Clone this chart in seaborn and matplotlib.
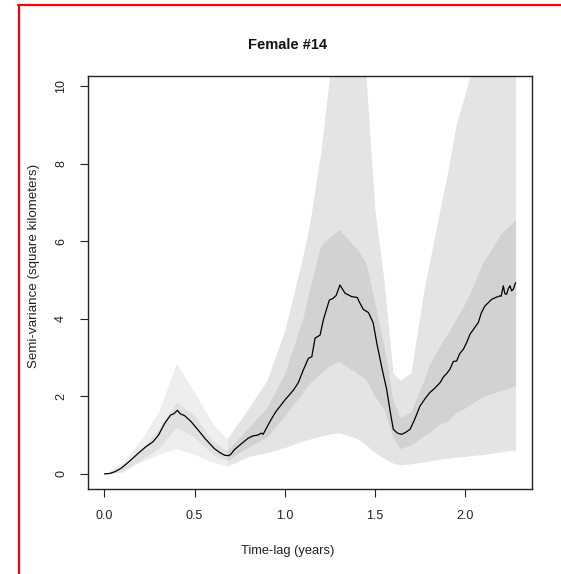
import matplotlib
matplotlib.use("Agg")
import matplotlib.pyplot as plt
import seaborn as sns
import numpy as np
import pandas as pd
from matplotlib.lines import Line2D

# ---- data ----
lag_years = [0, 0.03, 0.06, 0.094, 0.14, 0.187, 0.23, 0.27, 0.30, 0.335, 0.368, 0.385,
             0.405, 0.42, 0.445, 0.48, 0.52, 0.56, 0.61, 0.64, 0.667, 0.686, 0.70, 0.72,
             0.76, 0.797, 0.81, 0.824, 0.85, 0.87, 0.88, 0.918, 0.95, 1.0, 1.048, 1.075,
             1.103, 1.131, 1.15, 1.168, 1.196, 1.214, 1.247, 1.269, 1.285, 1.306, 1.318,
             1.334, 1.371, 1.402, 1.417, 1.436, 1.464, 1.49, 1.51, 1.54, 1.565, 1.585,
             1.602, 1.625, 1.648, 1.67, 1.695, 1.72, 1.75, 1.78, 1.805, 1.83, 1.861, 1.88,
             1.9, 1.916, 1.935, 1.953, 1.97, 1.99, 2.01, 2.027, 2.05, 2.073, 2.09, 2.11,
             2.13, 2.147, 2.17, 2.193, 2.2, 2.212, 2.22, 2.23, 2.24, 2.249, 2.258, 2.267, 2.28]
semivariance = [0, 0.01, 0.06, 0.15, 0.33, 0.53, 0.70, 0.83, 1.0, 1.31, 1.52, 1.55,
                1.64, 1.55, 1.50, 1.35, 1.13, 0.90, 0.65, 0.55, 0.48, 0.47, 0.50, 0.62,
                0.78, 0.92, 0.95, 0.98, 1.0, 1.05, 1.02, 1.35, 1.60, 1.90, 2.16, 2.35,
                2.68, 2.98, 3.02, 3.50, 3.58, 3.97, 4.48, 4.53, 4.60, 4.87, 4.78,
                4.66, 4.57, 4.55, 4.40, 4.24, 4.16, 3.90, 3.38, 2.70, 2.18, 1.60,
                1.15, 1.05, 1.02, 1.07, 1.15, 1.40, 1.75, 1.95, 2.10, 2.20, 2.35, 2.50,
                2.60, 2.70, 2.90, 2.91, 3.10, 3.21, 3.40, 3.60, 3.75, 3.90, 4.15, 4.33,
                4.42, 4.50, 4.55, 4.59, 4.58, 4.85, 4.65, 4.63, 4.78, 4.85, 4.72, 4.76, 4.93]

band_lag = [0, 0.1, 0.2, 0.3, 0.4, 0.5, 0.6, 0.68, 0.8, 0.9, 1.0, 1.1, 1.14, 1.2, 1.25,
            1.3, 1.4, 1.45, 1.5, 1.55, 1.6, 1.64, 1.7, 1.77, 1.8, 1.86, 1.9, 1.95, 2.0,
            2.03, 2.1, 2.2, 2.28]
outer_upper = [0, 0.30, 0.85, 1.60, 2.85, 2.10, 1.30, 0.90, 1.70, 2.40, 3.70, 5.60, 6.50,
               8.30, 10.3, 12.0, 12.0, 10.3, 6.80, 5.00, 2.60, 2.42, 2.60, 4.70, 5.40,
               6.80, 7.70, 9.00, 9.80, 10.3, 11.5, 13.0, 14.0]
outer_lower = [0, 0.08, 0.30, 0.50, 0.65, 0.50, 0.30, 0.20, 0.45, 0.55, 0.68, 0.85, 0.90,
               0.98, 1.03, 1.06, 0.92, 0.75, 0.55, 0.40, 0.28, 0.23, 0.26, 0.31, 0.33,
               0.38, 0.40, 0.43, 0.45, 0.47, 0.50, 0.57, 0.62]
inner_upper = [0, 0.20, 0.60, 1.15, 1.85, 1.50, 0.85, 0.60, 1.20, 1.70, 2.60, 4.00, 4.80,
               5.90, 6.10, 6.30, 5.80, 5.45, 4.40, 3.30, 1.90, 1.45, 1.60, 2.40, 2.80,
               3.30, 3.60, 4.00, 4.40, 4.70, 5.45, 6.20, 6.55]
inner_lower = [0, 0.05, 0.35, 0.65, 1.20, 0.95, 0.50, 0.35, 0.70, 0.95, 1.50, 2.10, 2.35,
               2.60, 2.80, 2.90, 2.60, 2.44, 2.00, 1.67, 0.95, 0.65, 0.75, 0.98, 1.05,
               1.30, 1.35, 1.58, 1.70, 1.80, 2.00, 2.15, 2.27]

x_ticks = [0.0, 0.5, 1.0, 1.5, 2.0]
x_tick_labels = ["0.0", "0.5", "1.0", "1.5", "2.0"]
y_ticks = [0, 2, 4, 6, 8, 10]
y_tick_labels = ["0", "2", "4", "6", "8", "10"]

df = pd.DataFrame({"lag": lag_years, "sv": semivariance})

# ---- figure ----
sns.set_style("white")
plt.rcParams["font.family"] = ["Liberation Sans", "DejaVu Sans"]

W, H = 561, 574
fig = plt.figure(figsize=(W / 100, H / 100), dpi=100)
ax = fig.add_axes([88 / W, 1 - 489 / H, (532 - 88) / W, (489 - 76) / H])

split = band_lag.index(0.68)
segments = [
    (slice(0, split + 1), "#eeeeee", "#e0e0e0"),
    (slice(split, None), "#e4e4e4", "#d2d2d2"),
]
for sl, c_out, c_in in segments:
    ax.fill_between(band_lag[sl], outer_lower[sl], outer_upper[sl], color=c_out, lw=0, zorder=1)
    ax.fill_between(band_lag[sl], inner_lower[sl], inner_upper[sl], color=c_in, lw=0, zorder=2)
sns.lineplot(data=df, x="lag", y="sv", color="black", lw=0.9, ax=ax, zorder=3)

ax.set_xlim(-0.091, 2.371)
ax.set_ylim(-0.39, 10.26)
ax.set_xticks(x_ticks)
ax.set_xticklabels(x_tick_labels, fontsize=9, color="#222222")
ax.set_yticks(y_ticks)
ax.set_yticklabels(y_tick_labels, fontsize=9, color="#222222", rotation=90, va="center")
ax.tick_params(axis="both", direction="out", length=6, width=0.8, color="#222222",
               left=True, bottom=True)
ax.tick_params(axis="x", pad=9)
ax.tick_params(axis="y", pad=9)
for s in ax.spines.values():
    s.set_visible(True)
    s.set_color("#222222")
    s.set_linewidth(1.0)
ax.set_xlabel("")
ax.set_ylabel("")

fig.text(288 / W, 1 - 45 / H, "Female #14", ha="center", va="center",
         fontsize=10.5, fontweight="bold", color="#111111")
fig.text(288 / W, 1 - 551 / H, "Time-lag (years)", ha="center", va="center",
         fontsize=9.3, color="#222222")
fig.text(34 / W, 1 - 266 / H, "Semi-variance (square kilometers)", ha="center",
         va="center", rotation=90, fontsize=9.6, color="#222222")

# red frame (top and left edges)
fig.add_artist(Line2D([18 / W, 1.0], [1 - 5 / H, 1 - 5 / H], color="red", lw=1.6,
                      transform=fig.transFigure))
fig.add_artist(Line2D([19 / W, 19 / W], [0.0, 1 - 5 / H], color="red", lw=1.6,
                      transform=fig.transFigure))

fig.savefig("out.png", dpi=100, facecolor="white")
